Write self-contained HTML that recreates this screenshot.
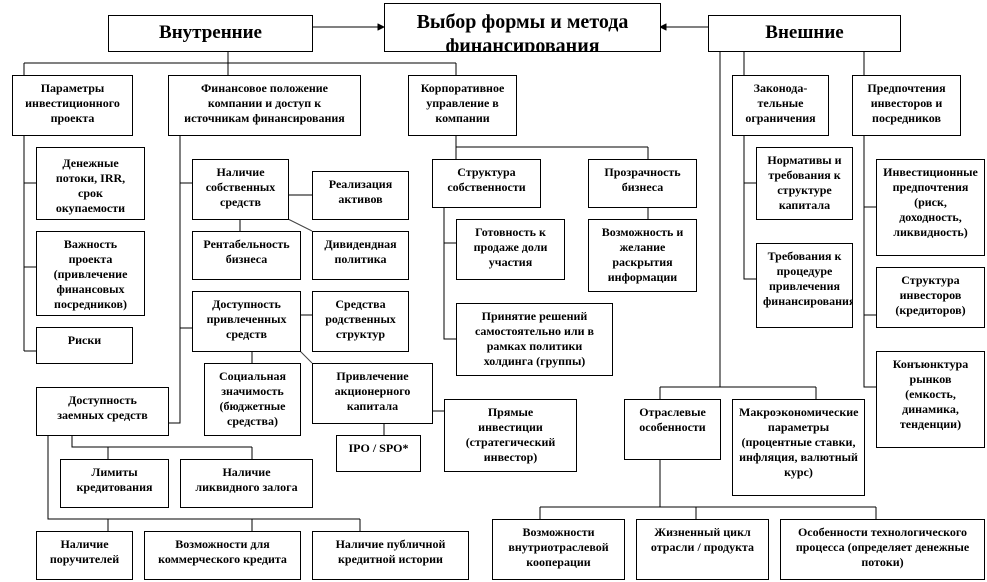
<!DOCTYPE html>
<html><head><meta charset="utf-8"><style>
body{margin:0;width:987px;height:582px;background:#fff;position:relative;overflow:hidden;font-family:"Liberation Serif","DejaVu Serif",serif;}
.b{position:absolute;box-sizing:border-box;border:1px solid #000;background:#fff;text-align:center;font-weight:bold;font-size:12px;line-height:15px;padding:5px 6px 0 6px;overflow:hidden;color:#000}
svg{position:absolute;left:0;top:0}
</style></head><body>
<svg width="987" height="582" stroke="#000" stroke-width="1" fill="none" shape-rendering="crispEdges">
<path d="M312 27H380M708 27H664"/>
<path d="M384 27l-6-3v6z M660 27l6-3v6z" fill="#000"/>
<path d="M228 51V63M24 63H456M24 63V75M228 63V75M456 63V75"/>
<path d="M24 135V351M24 183H36M24 267H36M24 351H36"/>
<path d="M180 135V423H168M180 183H192M288 195H312M240 219V231M180 328H192M300 315H312M252 351V363M384 423V435M432 411H444"/>
<path d="M288 219L312 231M300 351L312 363" shape-rendering="auto" stroke="#444"/>
<path d="M72 435V447H252M108 447V459M252 447V459M48 435V519H360M108 519V531M252 519V531M360 519V531"/>
<path d="M456 135V147H648M456 147V159M648 147V159M444 207V339H456M444 243H456M648 207V219"/>
<path d="M720 51V387M744 51V75M864 51V75M744 135V279H756M744 183H756M864 135V387H876M864 207H876M864 315H876"/>
<path d="M660 387H816M660 387V399M816 387V399M660 459V507M540 507H876M540 507V519M696 507V519M876 507V519"/>
</svg>
<div class="b" style="left:108px;top:15px;width:205px;height:37px;font-size:19px;line-height:34px;padding:0">Внутренние</div>
<div class="b" style="left:384px;top:3px;width:277px;height:49px;font-size:20px;line-height:24px;padding:6px 0 0 0">Выбор формы и метода финансирования</div>
<div class="b" style="left:708px;top:15px;width:193px;height:37px;font-size:19px;line-height:34px;padding:0">Внешние</div>

<div class="b" style="left:12px;top:75px;width:121px;height:61px">Параметры инвестиционного проекта</div>
<div class="b" style="left:168px;top:75px;width:193px;height:61px;padding:5px 12px 0">Финансовое положение компании и доступ к источникам финансирования</div>
<div class="b" style="left:408px;top:75px;width:109px;height:61px">Корпоративное управление в компании</div>

<div class="b" style="left:36px;top:147px;width:109px;height:73px;padding:8px 12px 0">Денежные потоки, IRR, срок окупаемости</div>
<div class="b" style="left:36px;top:231px;width:109px;height:85px">Важность проекта (привлечение финансовых посредников)</div>
<div class="b" style="left:36px;top:327px;width:97px;height:37px">Риски</div>

<div class="b" style="left:192px;top:159px;width:97px;height:61px">Наличие собственных средств</div>
<div class="b" style="left:312px;top:171px;width:97px;height:49px">Реализация активов</div>
<div class="b" style="left:192px;top:231px;width:109px;height:49px">Рентабельность бизнеса</div>
<div class="b" style="left:312px;top:231px;width:97px;height:49px">Дивидендная политика</div>
<div class="b" style="left:192px;top:291px;width:109px;height:61px">Доступность привлеченных средств</div>
<div class="b" style="left:312px;top:291px;width:97px;height:61px">Средства родственных структур</div>
<div class="b" style="left:204px;top:363px;width:97px;height:73px">Социальная значимость (бюджетные средства)</div>
<div class="b" style="left:312px;top:363px;width:121px;height:61px">Привлечение акционерного капитала</div>
<div class="b" style="left:336px;top:435px;width:85px;height:37px">IPO / SPO*</div>
<div class="b" style="left:444px;top:399px;width:133px;height:73px;padding:5px 14px 0">Прямые инвестиции (стратегический инвестор)</div>
<div class="b" style="left:36px;top:387px;width:133px;height:49px;padding:5px 16px 0">Доступность заемных средств</div>
<div class="b" style="left:60px;top:459px;width:109px;height:49px">Лимиты кредитования</div>
<div class="b" style="left:180px;top:459px;width:133px;height:49px;padding:5px 14px 0">Наличие ликвидного залога</div>
<div class="b" style="left:36px;top:531px;width:97px;height:49px">Наличие поручителей</div>
<div class="b" style="left:144px;top:531px;width:157px;height:49px">Возможности для коммерческого кредита</div>
<div class="b" style="left:312px;top:531px;width:157px;height:49px">Наличие публичной кредитной истории</div>

<div class="b" style="left:432px;top:159px;width:109px;height:49px">Структура собственности</div>
<div class="b" style="left:456px;top:219px;width:109px;height:61px">Готовность к продаже доли участия</div>
<div class="b" style="left:456px;top:303px;width:157px;height:73px;padding:5px 8px 0">Принятие решений самостоятельно или в рамках политики холдинга (группы)</div>
<div class="b" style="left:588px;top:159px;width:109px;height:49px">Прозрачность бизнеса</div>
<div class="b" style="left:588px;top:219px;width:109px;height:73px">Возможность и желание раскрытия информации</div>

<div class="b" style="left:732px;top:75px;width:97px;height:61px">Законода-тельные ограничения</div>
<div class="b" style="left:852px;top:75px;width:109px;height:61px">Предпочтения инвесторов и посредников</div>
<div class="b" style="left:756px;top:147px;width:97px;height:73px">Нормативы и требования к структуре капитала</div>
<div class="b" style="left:756px;top:243px;width:97px;height:85px">Требования к процедуре привлечения финансирования</div>
<div class="b" style="left:876px;top:159px;width:109px;height:97px">Инвестиционные предпочтения (риск, доходность, ликвидность)</div>
<div class="b" style="left:876px;top:267px;width:109px;height:61px">Структура инвесторов (кредиторов)</div>
<div class="b" style="left:876px;top:351px;width:109px;height:97px">Конъюнктура рынков (емкость, динамика, тенденции)</div>
<div class="b" style="left:624px;top:399px;width:97px;height:61px">Отраслевые особенности</div>
<div class="b" style="left:732px;top:399px;width:133px;height:97px">Макроэкономические параметры (процентные ставки, инфляция, валютный курс)</div>
<div class="b" style="left:492px;top:519px;width:133px;height:61px">Возможности внутриотраслевой кооперации</div>
<div class="b" style="left:636px;top:519px;width:133px;height:61px">Жизненный цикл отрасли / продукта</div>
<div class="b" style="left:780px;top:519px;width:205px;height:61px;padding:5px 14px 0">Особенности технологического процесса (определяет денежные потоки)</div>
</body></html>
